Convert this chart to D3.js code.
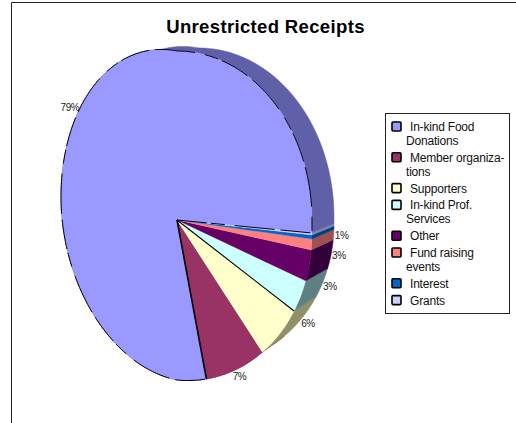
<!doctype html>
<html lang="en">
<head>
  <title>Unrestricted Receipts</title>
  <script src="https://d3js.org/d3.v7.min.js"></script>
  <style>
    body { margin: 0px; background: #fff; }
    svg { display: block; }
    text { font-family: "Liberation Sans", Arial, sans-serif; }
  </style>
</head>
<body>
  <div id="container"></div>
  <script>
    var categories = ["In-kind Food Donations", "Member organizations", "Supporters", "In-kind Prof. Services", "Other", "Fund raising events", "Interest", "Grants"];
    var values = [78.5, 7.4, 5.8, 3.4, 3.2, 1.1, 0.4, 0.2];
    var valueLabels = ["79%", "7%", "6%", "3%", "3%", "1%", null, null];
    var legendLines = [["In-kind Food", "Donations"], ["Member organiza-", "tions"], ["Supporters"], ["In-kind Prof.", "Services"], ["Other"], ["Fund raising", "events"], ["Interest"], ["Grants"]];
    var colors = ["#9999ff", "#993366", "#ffffcc", "#ccffff", "#660066", "#ff8080", "#0066cc", "#ccccff"];
    var wallColors = ["#6060a8", "#602040", "#8f8f68", "#5f8080", "#33003a", "#a05050", "#004080", "#8080a8"];

    var width = 516, height = 423;

    var svg = d3.select('div#container').append('svg')
      .attr('width', width)
      .attr('height', height);

    // chart frame, the right and bottom sides are cropped off
    svg.append('path')
      .attr('d', 'M11.5,' + height + 'V2.5H' + width)
      .attr('fill', 'none')
      .attr('stroke', '#222');

    svg.append('text')
      .attr('x', 265.5)
      .attr('y', 33)
      .attr('text-anchor', 'middle')
      .style('font-size', '18.5px')
      .style('font-weight', 'bold')
      .style('letter-spacing', '0.35px')
      .text('Unrestricted Receipts');

    // tilted pie seen in perspective: apex is off centre, left side leans up, lower right leans down
    var frontX = d3.scaleLinear().domain([-1, 0, 1]).range([61, 177, 312]);
    var frontY = d3.scaleLinear().domain([-1, 0, 1]).range([51, 220, 380]);
    var backX = d3.scaleLinear().domain([-1, 0, 1]).range([80, 199, 334]);
    var backY = d3.scaleLinear().domain([-1, 0, 1]).range([48, 217, 365]);
    var frontShear = 13, backShear = 7, leftShear = 23;

    function rimPoint(a, xs, ys, shear) {
      var sx = Math.sin(a), sy = -Math.cos(a);
      var offset = 0;
      if (sx < 0) offset = leftShear * sx;
      else if (sy >= -1e-9) offset = shear * sx;
      return [xs(sx), ys(sy) + offset];
    }
    function front(a) { return rimPoint(a, frontX, frontY, frontShear); }
    function back(a) { return rimPoint(a, backX, backY, backShear); }

    // legend order runs counter-clockwise from 3 o'clock
    var pie = d3.pie().sort(null).startAngle(2.5 * Math.PI).endAngle(0.5 * Math.PI);
    var slices = pie(values);

    function rimPoints(d, fn) {
      var n = Math.max(2, Math.ceil(Math.abs(d.endAngle - d.startAngle) * 60));
      return d3.range(n + 1).map(function(i) {
        return fn(d.startAngle + (d.endAngle - d.startAngle) * i / n);
      });
    }

    var line = d3.line();
    var apex = [frontX(0), frontY(0)];

    // side wall first, front faces go over it
    svg.append('g').selectAll('path')
      .data(slices)
      .enter()
      .append('path')
      .attr('fill', function(d, i) { return wallColors[i]; })
      .attr('stroke', function(d, i) { return wallColors[i]; })
      .attr('stroke-width', 0.5)
      .attr('d', function(d) {
        return line(rimPoints(d, front).concat(rimPoints(d, back).reverse())) + 'Z';
      });

    svg.append('g').selectAll('path')
      .data(slices)
      .enter()
      .append('path')
      .attr('fill', function(d, i) { return colors[i]; })
      .attr('stroke', function(d, i) { return colors[i]; })
      .attr('stroke-width', 0.3)
      .attr('d', function(d) {
        return line([apex].concat(rimPoints(d, front))) + 'Z';
      });

    // black outline is only on the big slice and a few inner edges, and it breaks up like the scan
    svg.append('path')
      .attr('fill', 'none')
      .attr('stroke', '#000')
      .attr('stroke-width', 1)
      .attr('stroke-dasharray', '30 4 14 10 40 6')
      .attr('d', line([apex].concat(rimPoints(slices[0], front))));

    svg.append('path')
      .attr('fill', 'none')
      .attr('stroke', '#000')
      .attr('stroke-width', 1.6)
      .attr('d', line([apex, front(slices[0].endAngle)]));

    svg.append('path')
      .attr('fill', 'none')
      .attr('stroke', '#000')
      .attr('stroke-width', 1.1)
      .attr('d', line([apex, front(slices[2].endAngle)]));

    // percent labels sit just outside whichever rim is further out
    svg.append('g').selectAll('text')
      .data(slices.filter(function(d) { return valueLabels[d.index] != null; }))
      .enter()
      .append('text')
      .style('font-size', '10px')
      .style('letter-spacing', '-0.4px')
      .attr('fill', '#222')
      .attr('text-anchor', function(d) {
        return Math.sin((d.startAngle + d.endAngle) / 2) < 0 ? 'end' : 'middle';
      })
      .attr('transform', function(d) {
        var a = (d.startAngle + d.endAngle) / 2;
        var sx = Math.sin(a), sy = -Math.cos(a);
        if (sx < 0) {
          var q = front(a - 0.09);
          return 'translate(' + (q[0] - 1) + ',' + (q[1] + 3.5) + ')';
        }
        var f = front(a), b = back(a);
        var p = Math.hypot(f[0] - apex[0], f[1] - apex[1]) > Math.hypot(b[0] - apex[0], b[1] - apex[1]) ? f : b;
        return 'translate(' + (p[0] + 8 * sx) + ',' + (p[1] + 8 * sy + 3.5) + ')';
      })
      .text(function(d) { return valueLabels[d.index]; });

    // legend
    var legendX = 385.5, legendY = 113.5;
    svg.append('rect')
      .attr('x', legendX)
      .attr('y', legendY)
      .attr('width', 124)
      .attr('height', 200)
      .attr('fill', '#fff')
      .attr('stroke', '#222');

    var rowY = 127;
    categories.forEach(function(name, i) {
      var row = svg.append('g').attr('class', 'legend-row').attr('data-name', name);
      row.append('rect')
        .attr('x', 392)
        .attr('y', rowY - 5)
        .attr('width', 9)
        .attr('height', 9)
        .attr('rx', 1)
        .attr('fill', colors[i])
        .attr('stroke', '#000')
        .attr('stroke-width', 1.6);
      legendLines[i].forEach(function(t, j) {
        row.append('text')
          .attr('x', j == 0 ? 410 : 406)
          .attr('y', rowY + 14 * j + 4)
          .style('font-size', '12px')
          .style('letter-spacing', '-0.2px')
          .attr('fill', '#111')
          .text(t);
      });
      rowY += 16.8 + 14 * (legendLines[i].length - 1);
    });
  </script>
</body>
</html>
